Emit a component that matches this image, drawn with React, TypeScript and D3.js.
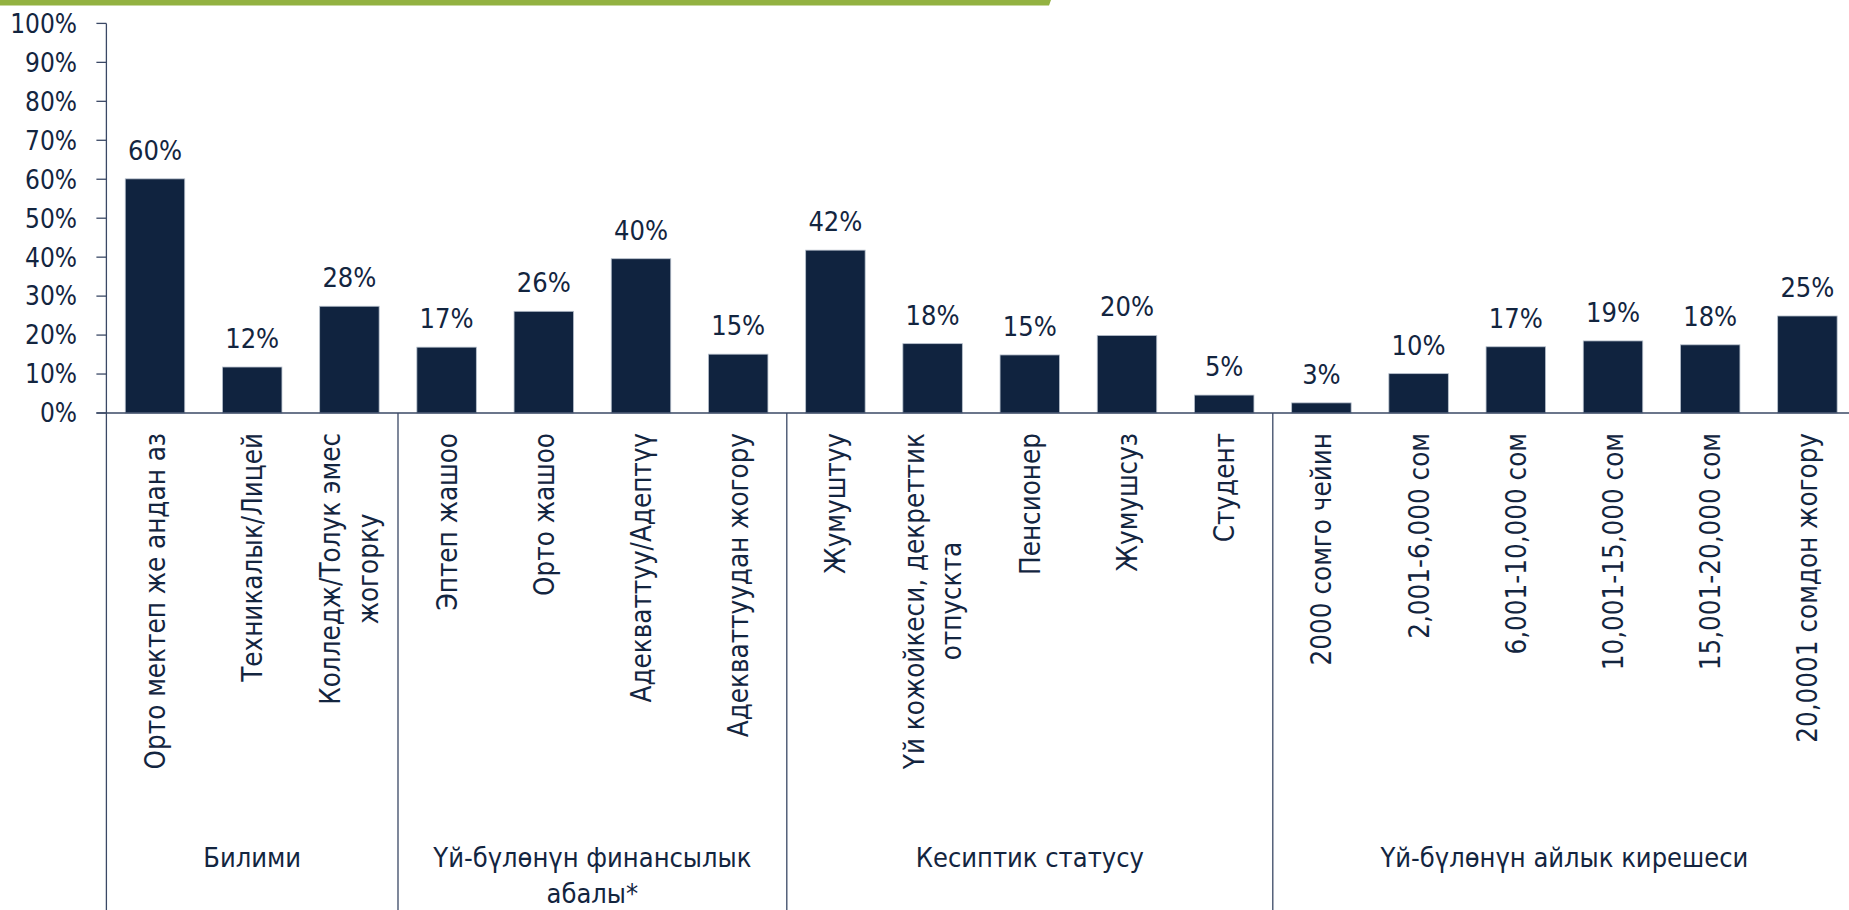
import React, { useEffect, useRef } from "react";
import * as d3 from "d3";

const categories: string[][] = [
  ["Орто мектеп же андан аз"],
  ["Техникалык/Лицей"],
  ["Колледж/Толук эмес", "жогорку"],
  ["Эптеп жашоо"],
  ["Орто жашоо"],
  ["Адекваттуу/Адептүү"],
  ["Адекваттуудан жогору"],
  ["Жумуштуу"],
  ["Үй кожойкеси, декреттик ", "отпускта"],
  ["Пенсионер"],
  ["Жумушсуз"],
  ["Студент"],
  ["2000 сомго чейин"],
  ["2,001-6,000 сом"],
  ["6,001-10,000 сом"],
  ["10,001-15,000 сом"],
  ["15,001-20,000 сом"],
  ["20,0001 сомдон жогору"],
];

const values: number[] = [
  60.1, 11.8, 27.4, 16.9, 26.1, 39.6, 15.1, 41.8, 17.8, 14.9, 19.9, 4.6, 2.6,
  10.1, 17.0, 18.5, 17.5, 24.9,
];

const valueLabels: string[] = [
  "60%", "12%", "28%", "17%", "26%", "40%", "15%", "42%", "18%", "15%", "20%",
  "5%", "3%", "10%", "17%", "19%", "18%", "25%",
];

const groupNames: string[][] = [
  ["Билими"],
  ["Үй-бүлөнүн финансылык", "абалы*"],
  ["Кесиптик статусу"],
  ["Үй-бүлөнүн айлык кирешеси"],
];
const groupSizes: number[] = [3, 4, 5, 6];

const yTicks: number[] = [0, 10, 20, 30, 40, 50, 60, 70, 80, 90, 100];

const W = 1849;
const H = 910;
const FONT = "'DejaVu Sans Condensed', 'DejaVu Sans', sans-serif";
const NAVY = "#10233f";
const TEXT = "#13253f";
const LINE = "#3a4865";

export default function App() {
  const ref = useRef<SVGSVGElement | null>(null);

  useEffect(() => {
    document.body.style.margin = "0";
    document.body.style.overflow = "hidden";
    const svg = d3.select(ref.current);
    svg.selectAll("*").remove();

    const x0 = 106.4;
    const step = 97.2;
    const x = d3
      .scaleBand<number>()
      .domain(d3.range(categories.length))
      .range([x0, x0 + step * categories.length])
      .paddingInner(0.388)
      .paddingOuter(0.194);
    const y = d3.scaleLinear().domain([0, 100]).range([413, 23.4]);

    // green header band
    svg
      .append("path")
      .attr("d", "M0,0 L1051,0 L1049,5.5 L0,5.5 Z")
      .attr("fill", "#93b241");

    // bars
    svg
      .append("g")
      .selectAll("rect")
      .data(values)
      .join("rect")
      .attr("x", (_, i) => x(i)!)
      .attr("width", x.bandwidth())
      .attr("y", (d) => y(d))
      .attr("height", (d) => y(0) - y(d))
      .attr("fill", NAVY)
      .attr("stroke", "#b7c0cc")
      .attr("stroke-width", 0.8);

    // value labels
    svg
      .append("g")
      .selectAll("text")
      .data(values)
      .join("text")
      .attr("x", (_, i) => x(i)! + x.bandwidth() / 2)
      .attr("y", (d) => y(d) - 19)
      .attr("text-anchor", "middle")
      .attr("font-family", FONT)
      .attr("font-size", 27)
      .attr("fill", TEXT)
      .text((_, i) => valueLabels[i]);

    // y axis
    const ya = svg.append("g");
    ya.append("line")
      .attr("x1", x0)
      .attr("x2", x0)
      .attr("y1", y(100))
      .attr("y2", H)
      .attr("stroke", LINE)
      .attr("stroke-width", 1.3);
    ya.selectAll("line.tick")
      .data(yTicks)
      .join("line")
      .attr("class", "tick")
      .attr("x1", x0 - 10)
      .attr("x2", x0)
      .attr("y1", (d) => y(d))
      .attr("y2", (d) => y(d))
      .attr("stroke", LINE)
      .attr("stroke-width", 1.3);
    ya.selectAll("text")
      .data(yTicks)
      .join("text")
      .attr("x", 77)
      .attr("y", (d) => y(d))
      .attr("dy", "0.36em")
      .attr("text-anchor", "end")
      .attr("font-family", FONT)
      .attr("font-size", 26)
      .attr("fill", TEXT)
      .text((d) => d + "%");

    // x axis line
    svg
      .append("line")
      .attr("x1", x0 - 10)
      .attr("x2", W)
      .attr("y1", y(0))
      .attr("y2", y(0))
      .attr("stroke", LINE)
      .attr("stroke-width", 1.3);

    // group separators
    let acc = 0;
    const bounds: number[] = [];
    groupSizes.forEach((n) => {
      bounds.push(acc);
      acc += n;
    });
    svg
      .append("g")
      .selectAll("line")
      .data(bounds.slice(1))
      .join("line")
      .attr("x1", (b) => x0 + b * step)
      .attr("x2", (b) => x0 + b * step)
      .attr("y1", y(0))
      .attr("y2", H)
      .attr("stroke", LINE)
      .attr("stroke-width", 1.3);

    // category labels (rotated, wrapped lines centered with each other)
    const catG = svg.append("g");
    categories.forEach((lines, i) => {
      const cx = x(i)! + x.bandwidth() / 2;
      const g = catG
        .append("g")
        .attr("transform", `translate(${cx},433) rotate(-90)`);
      const texts = lines.map((ln, k) =>
        g
          .append("text")
          .attr("y", (k - (lines.length - 1) / 2) * 38)
          .attr("dy", "0.36em")
          .attr("text-anchor", "middle")
          .attr("font-family", FONT)
          .attr("font-size", 27.5)
          .attr("fill", TEXT)
          .text(ln)
      );
      const maxLen = d3.max(texts, (t) =>
        (t.node() as SVGTextElement).getComputedTextLength()
      )!;
      texts.forEach((t) => t.attr("x", -maxLen / 2));
    });

    // group labels
    const gg = svg.append("g");
    groupNames.forEach((lines, gi) => {
      const cx = x0 + (bounds[gi] + groupSizes[gi] / 2) * step;
      lines.forEach((ln, k) => {
        gg.append("text")
          .attr("x", cx)
          .attr("y", 866.5 + k * 36)
          .attr("text-anchor", "middle")
          .attr("font-family", FONT)
          .attr("font-size", 27)
          .attr("fill", TEXT)
          .text(ln);
      });
    });
  }, []);

  return (
    <svg
      ref={ref}
      width={W}
      height={H}
      style={{ display: "block", background: "#ffffff" }}
    />
  );
}
